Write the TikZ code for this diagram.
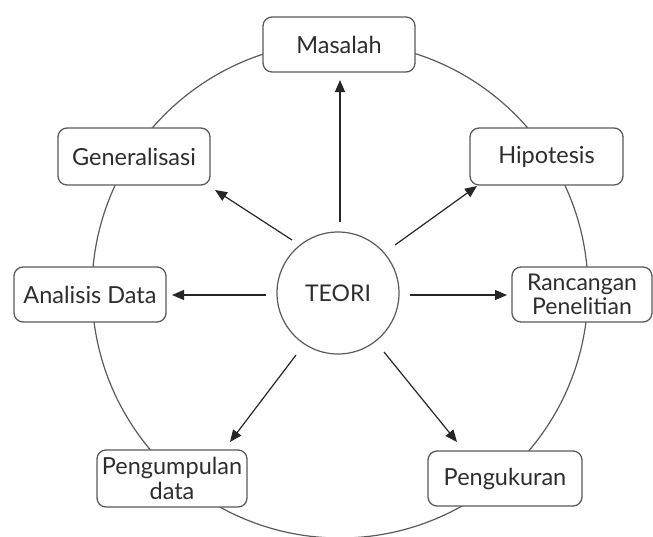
\documentclass[tikz,border=0pt]{standalone}
\usepackage{fontspec}
\setmainfont{Lato}
\usetikzlibrary{arrows.meta}
\definecolor{ln}{RGB}{90,90,90}
\definecolor{tx}{RGB}{45,45,45}
\begin{document}
\begin{tikzpicture}[x=1pt,y=-1pt,
  box/.style={draw=ln,line width=1.3pt,rounded corners=9pt,fill=white,text=tx,
    font=\fontsize{23.5}{25}\selectfont,align=center,inner sep=0pt},
  arr/.style={draw=black!85,line width=1.2pt,-{Triangle[length=12pt,width=10pt]}}]
\useasboundingbox (0,0) rectangle (653,536);
\node[draw=ln,line width=1.2pt,circle,minimum size=496pt] (big) at (340,290) {};
\node[draw=ln,line width=1.2pt,circle,minimum size=122pt,text=tx,font=\fontsize{23}{24}\selectfont] (teori) at (338,293) {TEORI};
\node[box,minimum width=152pt,minimum height=55pt] (mas) at (339,44.5) {Masalah};
\node[box,minimum width=153pt,minimum height=57pt] (hip) at (546.5,156.5) {Hipotesis};
\node[box,minimum width=152pt,minimum height=57pt] (gen) at (134,156.5) {Generalisasi};
\node[box,minimum width=152pt,minimum height=55pt] (ana) at (90,294.5) {Analisis Data};
\node[box,minimum width=140pt,minimum height=55pt,font=\fontsize{23}{24}\selectfont] (ran) at (582,294.5) {Rancangan\\Penelitian};
\node[box,minimum width=150pt,minimum height=57pt] (pen) at (172,478.5) {Pengumpulan\\data};
\node[box,minimum width=154pt,minimum height=55pt] (uku) at (505,478.5) {Pengukuran};
\coordinate (a1) at (340,222); \coordinate (b1) at (340,80);
\coordinate (a2) at (292,240); \coordinate (b2) at (215,190);
\coordinate (a3) at (266,295); \coordinate (b3) at (172,295);
\coordinate (a4) at (410,295); \coordinate (b4) at (507,295);
\coordinate (a5) at (395,245); \coordinate (b5) at (477,186);
\coordinate (a6) at (296,355); \coordinate (b6) at (230,442);
\coordinate (a7) at (384,352); \coordinate (b7) at (457,442);
\draw[arr] (a1) -- (b1);
\draw[arr] (a2) -- (b2);
\draw[arr] (a3) -- (b3);
\draw[arr] (a4) -- (b4);
\draw[arr] (a5) -- (b5);
\draw[arr] (a6) -- (b6);
\draw[arr] (a7) -- (b7);
\end{tikzpicture}
\end{document}
